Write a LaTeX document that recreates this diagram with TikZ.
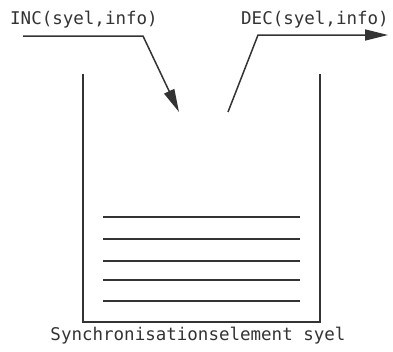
\documentclass[tikz,border=0pt]{standalone}
\usepackage{fontspec}
\setmonofont{DejaVu Sans Mono}
\usetikzlibrary{arrows.meta}
\definecolor{ink}{HTML}{333333}
\begin{document}
\begin{tikzpicture}[x=1pt,y=-1pt,
  ln/.style={draw=ink,line width=1.5pt},
  arr/.style={ln,-{Triangle[length=23pt,width=11pt]}},
  lbl/.style={text=ink,font=\ttfamily\fontsize{17.5}{20}\selectfont,inner sep=0pt}]
\useasboundingbox (0,0) rectangle (393,351);
% container
\coordinate (tl) at (83,74);
\coordinate (bl) at (83,322);
\coordinate (br) at (320,322);
\coordinate (tr) at (320,74);
\draw[ln] (tl) -- (bl) -- (br) -- (tr);
% stacked items
\foreach \y [count=\i] in {217,239,261,280,301}{
  \coordinate (l\i) at (103,\y);
  \coordinate (r\i) at (300,\y);
  \draw[ln] (l\i) -- (r\i);
}
% labels
\node[lbl,anchor=west] (inc) at (10,20) {INC(syel,info)};
\node[lbl,anchor=west] (dec) at (241,20) {DEC(syel,info)};
\node[lbl] (cap) at (198,336) {Synchronisationselement syel};
% arrows
\coordinate (inca) at (23,36);
\coordinate (incb) at (143,36);
\coordinate (inct) at (179,112);
\draw[arr] (inca) -- (incb) -- (inct);
\coordinate (deca) at (228,112);
\coordinate (decb) at (258,35);
\coordinate (dect) at (388,35);
\draw[arr] (deca) -- (decb) -- (dect);
\end{tikzpicture}
\end{document}
